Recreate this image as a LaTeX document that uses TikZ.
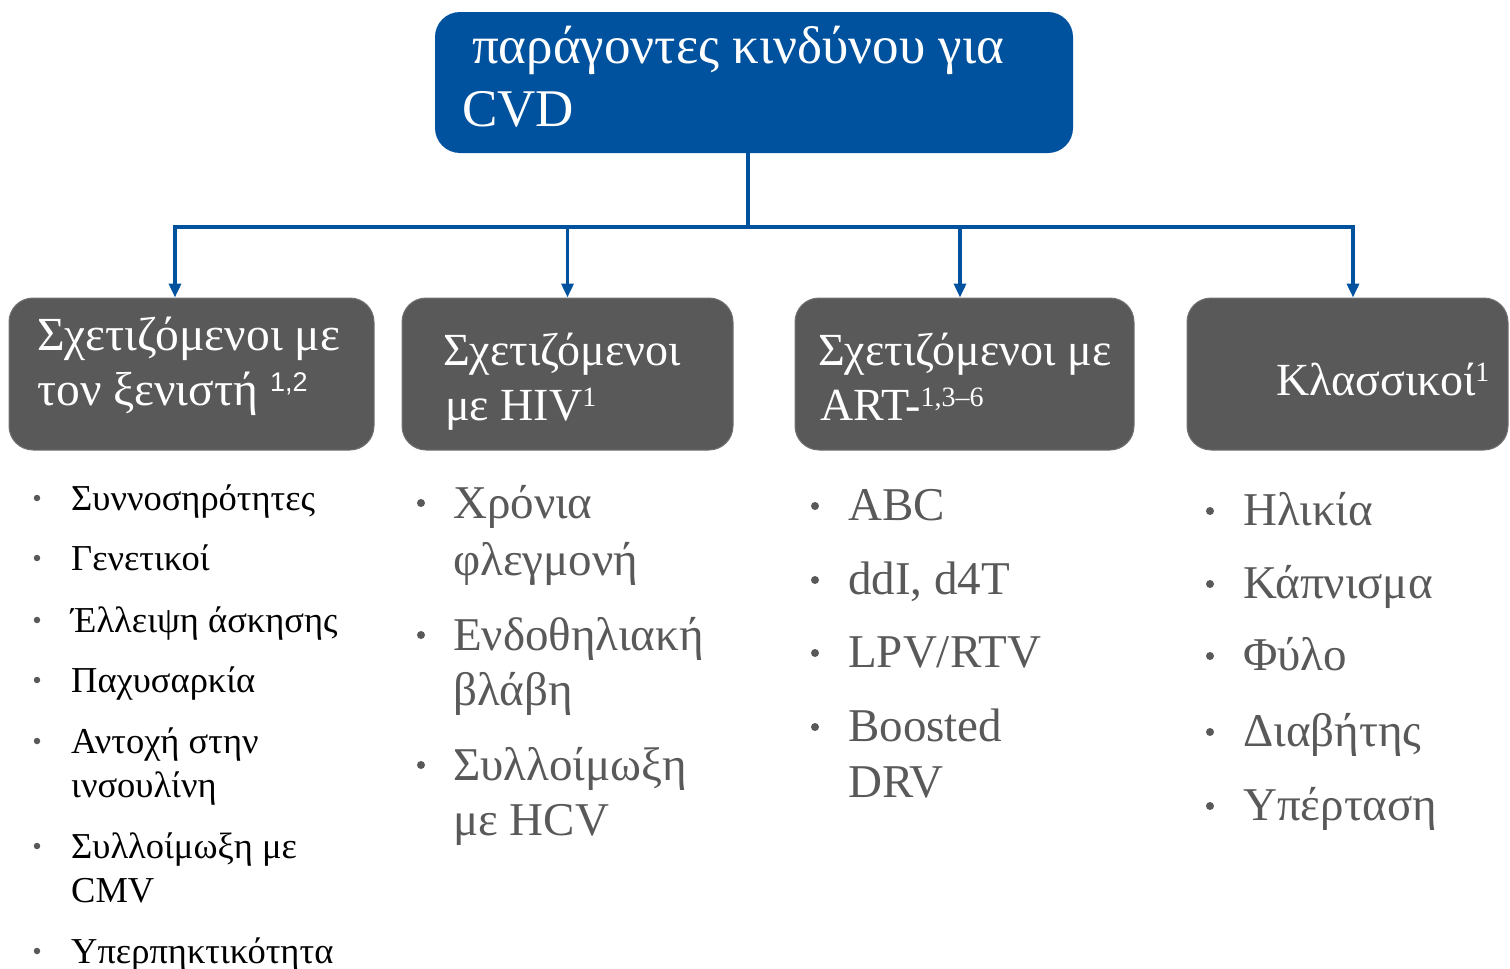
\documentclass[tikz,border=0pt]{standalone}
\usepackage{fontspec}
\setmainfont{Liberation Serif}
\newfontfamily\sansf{Liberation Sans}
\usetikzlibrary{arrows.meta}
\definecolor{cvdblue}{HTML}{00519E}
\definecolor{boxgray}{HTML}{595959}
\definecolor{txtgray}{HTML}{595959}
\begin{document}
\begin{tikzpicture}[x=1pt,y=-1pt,
  topbox/.style={fill=cvdblue, rounded corners=25pt, inner sep=0, minimum width=638pt, minimum height=141pt},
  catbox/.style={fill=boxgray, draw=boxgray!85!white, line width=1pt, rounded corners=24pt, inner sep=0, minimum height=152pt},
  ttl/.style={anchor=base west, inner sep=0, text=white, font=\fontsize{53}{63}\selectfont},
  cat/.style={anchor=base west, inner sep=0, text=white, font=\fontsize{46}{54}\selectfont},
  catbig/.style={cat, font=\fontsize{47.5}{54}\selectfont},
  itemA/.style={anchor=base west, inner sep=0, text=black, font=\fontsize{36.5}{40}\selectfont},
  itemB/.style={anchor=base west, inner sep=0, text=txtgray, font=\fontsize{47}{55}\selectfont},
  bltA/.style={circle, fill=txtgray, inner sep=0, minimum size=6.5pt},
  bltB/.style={circle, fill=txtgray, inner sep=0, minimum size=8pt},
  conn/.style={draw=cvdblue, line width=3.5pt},
  arr/.style={conn, -{Triangle[width=12pt,length=14pt]}}
]
\useasboundingbox (0,0) rectangle (1510,969);

% top box
\node[topbox] (top) at (754,82.5) {};
\node[ttl] (title1) at (472,63) {παράγοντες κινδύνου για};
\node[ttl] (title2) at (462,126) {CVD};

% category boxes
\node[catbox, minimum width=365pt] (b1) at (191.5,374) {};
\node[catbox, minimum width=331pt] (b2) at (567.5,374) {};
\node[catbox, minimum width=339pt] (b3) at (964.5,374) {};
\node[catbox, minimum width=321pt] (b4) at (1347.5,374) {};

\node[catbig] (b1a) at (37,350) {Σχετιζόμενοι με};
\node[catbig] (b1b) at (37,405) {τον ξενιστή {\sansf\fontsize{27}{27}\selectfont\raisebox{14pt}{1,2}}};
\node[cat] (b2a) at (443,365) {Σχετιζόμενοι};
\node[cat] (b2b) at (445,420) {με HIV{\fontsize{28}{28}\selectfont\raisebox{14pt}{1}}};
\node[cat] (b3a) at (818,365) {Σχετιζόμενοι με};
\node[cat] (b3b) at (820,420) {ART-{\fontsize{28}{28}\selectfont\raisebox{14pt}{1,3–6}}};
\node[cat] (b4a) at (1276,395) {Κλασσικοί{\fontsize{28}{28}\selectfont\raisebox{14pt}{1}}};

% connectors
\coordinate (hub) at (748,227);
\draw[conn] ([xshift=-6pt]top.south) -- (hub);
\draw[arr] (hub) -| ([xshift=-16.5pt]b1.north);
\draw[arr] (hub) -| (b2.north);
\draw[arr] (hub) -| ([xshift=-4.5pt]b3.north);
\draw[arr] (hub) -| ([xshift=5.5pt]b4.north);

% column 1
\node[bltA] (p1) at (37,498) {};
\node[itemA] (i1) at (71,510) {Συννοσηρότητες};
\node[bltA] (p2) at (37,558) {};
\node[itemA] (i2) at (71,570) {Γενετικοί};
\node[bltA] (p3) at (37,620) {};
\node[itemA] (i3) at (71,632) {Έλλειψη άσκησης};
\node[bltA] (p4) at (37,680) {};
\node[itemA] (i4) at (71,692) {Παχυσαρκία};
\node[bltA] (p5) at (37,741) {};
\node[itemA] (i5a) at (71,753) {Αντοχή στην};
\node[itemA] (i5b) at (71,797) {ινσουλίνη};
\node[bltA] (p6) at (37,846) {};
\node[itemA] (i6a) at (71,858) {Συλλοίμωξη με};
\node[itemA] (i6b) at (71,902) {CMV};
\node[bltA] (p7) at (37,951) {};
\node[itemA] (i7) at (71,963) {Υπερπηκτικότητα};

% column 2
\node[bltB] (q1) at (421,503) {};
\node[itemB] (j1a) at (453,518) {Χρόνια};
\node[itemB] (j1b) at (453,575) {φλεγμονή};
\node[bltB] (q2) at (421,635) {};
\node[itemB] (j2a) at (453,650) {Ενδοθηλιακή};
\node[itemB] (j2b) at (453,705) {βλάβη};
\node[bltB] (q3) at (421,765) {};
\node[itemB] (j3a) at (453,780) {Συλλοίμωξη};
\node[itemB] (j3b) at (453,835) {με HCV};

% column 3
\node[bltB] (r1) at (815,506) {};
\node[itemB] (k1) at (848,520) {ABC};
\node[bltB] (r2) at (815,580) {};
\node[itemB] (k2) at (848,594) {ddI, d4T};
\node[bltB] (r3) at (815,653) {};
\node[itemB] (k3) at (848,667) {LPV/RTV};
\node[bltB] (r4) at (815,727) {};
\node[itemB] (k4a) at (848,741) {Boosted};
\node[itemB] (k4b) at (848,797) {DRV};

% column 4
\node[bltB] (s1) at (1210,511) {};
\node[itemB] (m1) at (1243,525) {Ηλικία};
\node[bltB] (s2) at (1210,584) {};
\node[itemB] (m2) at (1243,598) {Κάπνισμα};
\node[bltB] (s3) at (1210,656) {};
\node[itemB] (m3) at (1243,670) {Φύλο};
\node[bltB] (s4) at (1210,732) {};
\node[itemB] (m4) at (1243,746) {Διαβήτης};
\node[bltB] (s5) at (1210,806) {};
\node[itemB] (m5) at (1243,820) {Υπέρταση};
\end{tikzpicture}
\end{document}
